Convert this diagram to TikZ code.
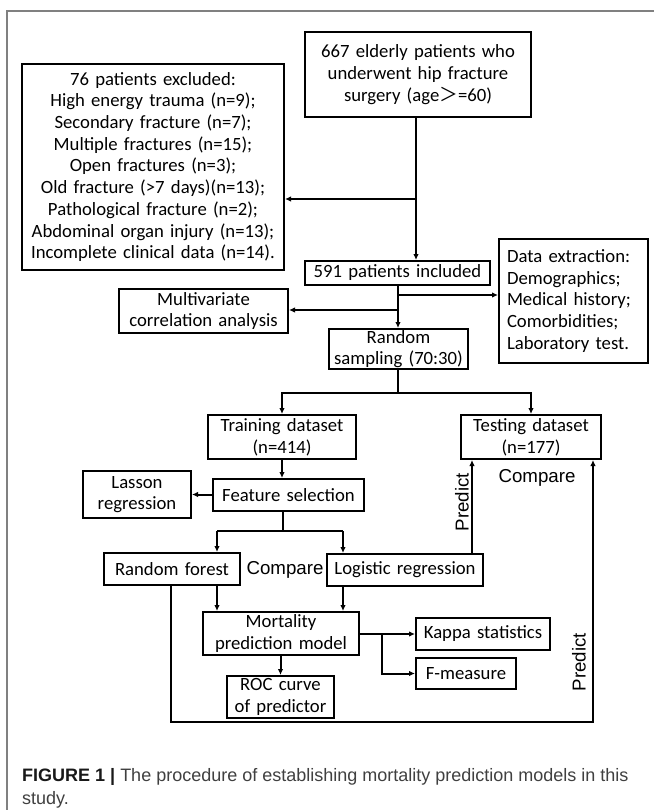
\documentclass[tikz,border=0pt]{standalone}
\usepackage{fontspec}
\setmainfont{Carlito}
\newfontfamily\arialf{Liberation Sans}
\newfontfamily\cjkf{Noto Sans CJK SC}
\usetikzlibrary{arrows.meta}
\begin{document}
\begin{tikzpicture}[x=1pt,y=-1pt,
  box/.style={draw, line width=2pt, inner xsep=0pt, inner ysep=0pt, align=center,
    font=\fontsize{18.7}{21.7}\selectfont},
  conn/.style={line width=2pt},
  arr/.style={conn, -{Latex[length=6pt,width=5.5pt]}},
  lbl/.style={font=\arialf\fontsize{18.7}{21}\selectfont, inner sep=0pt}]
\fill[white] (0,0) rectangle (654,810);
\path[use as bounding box] (0,0) rectangle (654,810);
\draw[black!50, line width=1.5pt] (7,810) -- (7,11) -- (654,11);

\node[box, text width=226pt, minimum height=85pt] (top) at (418,74.5)
  {667 elderly patients who\\underwent hip fracture\\surgery (age{\cjkf ＞}=60)};
\node[box, text width=262pt, minimum height=206pt] (excl) at (153,167)
  {76 patients excluded:\\High energy trauma (n=9);\\Secondary fracture (n=7);\\Multiple fractures (n=15);\\Open fractures (n=3);\\Old fracture (>7 days)(n=13);\\Pathological fracture (n=2);\\Abdominal organ injury (n=13);\\Incomplete clinical data (n=14).};
\node[box, text width=185pt, minimum height=24pt] (inc) at (397.5,273) {591 patients included};
\node[box, text width=133pt, inner xsep=8pt, align=left, minimum height=124pt] (data) at (573.5,301)
  {Data extraction:\\Demographics;\\Medical history;\\Comorbidities;\\Laboratory test.};
\node[box, text width=169pt, minimum height=44pt] (multi) at (203.5,311) {Multivariate\\correlation analysis};
\node[box, text width=139pt, minimum height=40pt] (rand) at (398.5,349) {Random\\sampling (70:30)};
\node[box, text width=148pt, minimum height=44pt] (train) at (282,437) {Training dataset\\(n=414)};
\node[box, text width=140pt, minimum height=44pt] (test) at (531,437) {Testing dataset\\(n=177)};
\node[box, text width=108pt, minimum height=47pt] (lasso) at (137,494.5) {Lasson\\regression};
\node[box, text width=151pt, minimum height=32pt] (feat) at (288.5,495) {Feature selection};
\node[box, text width=136pt, minimum height=32pt] (rf) at (172,569) {Random forest};
\node[box, text width=156pt, minimum height=32pt] (logit) at (405,570) {Logistic regression};
\node[box, text width=156pt, minimum height=43pt] (mort) at (281,633.5) {Mortality\\prediction model};
\node[box, text width=134pt, minimum height=32pt] (kappa) at (483,634) {Kappa statistics};
\node[box, text width=100pt, minimum height=31pt] (fm) at (466,673.5) {F-measure};
\node[box, text width=107pt, minimum height=42pt] (roc) at (280.5,697) {ROC curve\\of predictor};

\coordinate (c1) at (416,199);
\draw[arr] (top.south -| c1) -- (inc.north -| c1);
\draw[arr] (c1) -- (excl.east |- c1);
\coordinate (c2) at (398,295);
\coordinate (c3) at (398,310);
\draw[arr] (inc.south -| c2) -- (rand.north -| c2);
\draw[arr] (c2) -- (data.west |- c2);
\draw[arr] (c3) -- (multi.east |- c3);
\coordinate (c4) at (398,393);
\draw[conn] (rand.south -| c4) -- (c4);
\draw[arr] (c4) -| (train.north);
\draw[arr] (c4) -| (test.north);
\draw[arr] (train.south) -- (train.south |- feat.north);
\draw[arr] (feat.west |- lasso) -- (lasso.east);
\coordinate (c5) at (283,531);
\coordinate (c6) at (217,531);
\coordinate (c7) at (343,531);
\draw[conn] (feat.south -| c5) -- (c5);
\draw[conn] (c6) -- (c7);
\draw[arr] (c6) -- (rf.north -| c6);
\draw[arr] (c7) -- (logit.north -| c7);
\draw[arr] (rf.south -| c6) -- (mort.north -| c6);
\draw[arr] (logit.south -| c7) -- (mort.north -| c7);
\draw[arr] (mort.south -| roc) -- (roc.north);
\draw[arr] (mort.east |- kappa) -- (kappa.west);
\coordinate (c8) at (382,634);
\draw[arr] (c8) |- (fm.west);
\coordinate (c9) at (171,722);
\coordinate (c10) at (593,722);
\draw[arr] (rf.south -| c9) -- (c9) -- (c10) -- (test.south -| c10);
\coordinate (c11) at (472,500);
\draw[arr] (logit.north -| c11) -- (test.south -| c11);

\node[lbl, rotate=90] (p1) at (462,502) {Predict};
\node[lbl, rotate=90] (p2) at (579,662) {Predict};
\node[lbl] (cmp1) at (285,570) {Compare};
\node[lbl] (cmp2) at (537,478) {Compare};

\node[anchor=base west, inner sep=0pt, font=\arialf\fontsize{18}{22}\selectfont, text=black!75] (cap1) at (22,781)
  {{\bfseries\color{black!90}FIGURE 1 |} The procedure of establishing mortality prediction models in this};
\node[anchor=base west, inner sep=0pt, font=\arialf\fontsize{18}{22}\selectfont, text=black!75] (cap2) at (22,804) {study.};
\end{tikzpicture}
\end{document}
